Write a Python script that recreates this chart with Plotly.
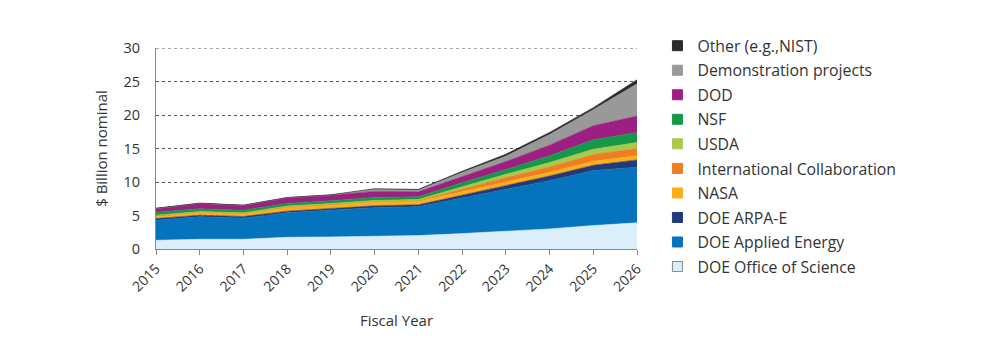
import plotly.graph_objects as go

years = list(range(2015, 2027))

doe_office_of_science = [1.3, 1.45, 1.45, 1.75, 1.8, 1.95, 2.0, 2.3, 2.6, 3.0, 3.5, 3.9]
doe_applied_energy = [3.0, 3.35, 3.15, 3.65, 4.0, 4.2, 4.3, 5.3, 6.3, 7.2, 8.2, 8.3]
doe_arpa_e = [0.25, 0.25, 0.25, 0.25, 0.25, 0.3, 0.3, 0.45, 0.6, 0.7, 0.8, 1.1]
nasa = [0.35, 0.4, 0.4, 0.5, 0.5, 0.55, 0.5, 0.5, 0.5, 0.55, 0.6, 0.6]
international_collaboration = [0.05, 0.05, 0.05, 0.1, 0.1, 0.1, 0.1, 0.4, 0.65, 0.8, 1.0, 1.1]
usda = [0.1, 0.1, 0.1, 0.15, 0.15, 0.15, 0.2, 0.35, 0.5, 0.65, 0.8, 0.9]
nsf = [0.45, 0.4, 0.4, 0.4, 0.4, 0.45, 0.4, 0.6, 0.7, 1.0, 1.4, 1.5]
dod = [0.55, 0.8, 0.7, 0.85, 0.85, 0.9, 0.75, 0.9, 1.2, 1.6, 2.1, 2.45]
demonstration_projects = [0.0, 0.0, 0.0, 0.0, 0.0, 0.3, 0.25, 0.6, 0.8, 1.6, 2.4, 4.8]
other = [0.05, 0.05, 0.05, 0.05, 0.05, 0.1, 0.1, 0.2, 0.3, 0.3, 0.3, 0.6]

y_ticks = [0, 5, 10, 15, 20, 25, 30]

series = [
    ("DOE Office of Science", doe_office_of_science, "#dbeffa"),
    ("DOE Applied Energy", doe_applied_energy, "#0574bd"),
    ("DOE ARPA-E", doe_arpa_e, "#233a7a"),
    ("NASA", nasa, "#fcb017"),
    ("International Collaboration", international_collaboration, "#ef7d22"),
    ("USDA", usda, "#a8c94a"),
    ("NSF", nsf, "#159848"),
    ("DOD", dod, "#9e1f82"),
    ("Demonstration projects", demonstration_projects, "#999999"),
    ("Other (e.g.,NIST)", other, "#2b2b2b"),
]

fig = go.Figure()
n = len(series)
for i, (name, vals, color) in enumerate(series):
    fig.add_trace(go.Scatter(
        x=years, y=vals, name=name, mode="lines",
        stackgroup="one", fillcolor=color,
        line=dict(width=0.6, color=color),
        showlegend=False,
        hoverinfo="x+y+name",
    ))
# legend entries with square swatches
for i, (name, vals, color) in enumerate(series):
    edge = "#8a8a8a" if i == 0 else color
    fig.add_trace(go.Scatter(
        x=[None], y=[None], name=name, mode="markers",
        marker=dict(symbol="square", size=10, color=color,
                    line=dict(width=1, color=edge)),
        legendgroup=f"g{i}", legendrank=n - i,
        showlegend=True, hoverinfo="skip",
    ))

# top gridline (plotly omits the grid line at the range edge)
fig.add_shape(type="line", xref="paper", x0=0, x1=1, yref="y",
              y0=y_ticks[-1], y1=y_ticks[-1],
              line=dict(color="#555555", width=1, dash="dot"), layer="below")

font_family = "Open Sans, Lato, Noto Sans, sans-serif"
fig.update_layout(
    width=1000, height=358,
    margin=dict(l=148, r=371, t=40, b=117, autoexpand=False),
    paper_bgcolor="white", plot_bgcolor="white",
    font=dict(family=font_family, size=14, color="#333333"),
    showlegend=True,
    legend=dict(
        traceorder="grouped",
        x=1.0425, xanchor="left", y=1.095, yanchor="top",
        font=dict(size=15.8, color="#333333"),
        tracegroupgap=1,
        itemwidth=30,
        maxheight=1,
    ),
    xaxis=dict(
        range=[2015, 2026], tickmode="array", tickvals=years,
        ticktext=[str(y) for y in years], tickangle=-45,
        ticks="outside", ticklen=5, tickcolor="#888888",
        showline=True, linecolor="#888888", linewidth=1,
        showgrid=False, zeroline=False, automargin=False,
        title=dict(text="Fiscal Year", font=dict(size=15), standoff=21),
        tickfont=dict(size=14),
    ),
    yaxis=dict(
        range=[0, 30], tickmode="array", tickvals=y_ticks,
        showline=True, linecolor="#888888", linewidth=1,
        showgrid=True, gridcolor="#555555", griddash="dot", gridwidth=1,
        zeroline=False, ticks="", automargin=False,
        ticklabelstandoff=12,
        title=dict(text="$ Billion nominal", font=dict(size=15), standoff=12),
        tickfont=dict(size=14.5),
    ),
)

fig.write_html("out.html")
